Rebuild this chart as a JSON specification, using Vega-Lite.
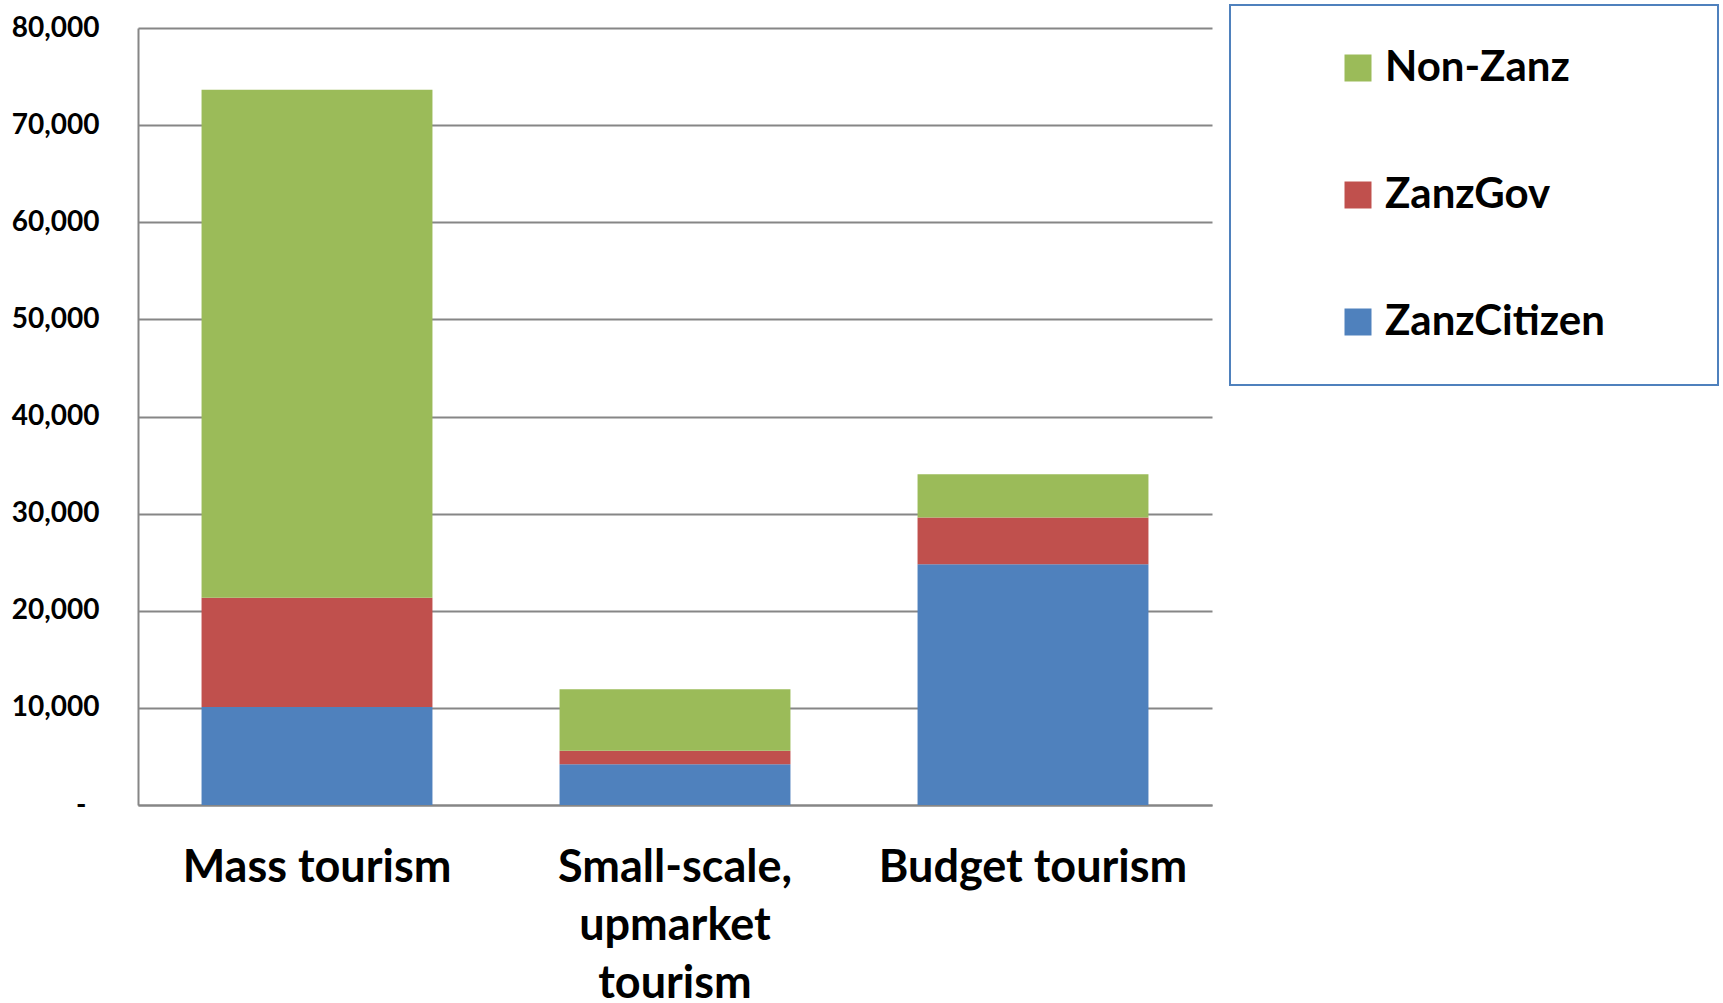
{
  "$schema": "https://vega.github.io/schema/vega-lite/v6.json",
  "autosize": "none",
  "padding": {"left": 138, "top": 28, "right": 511, "bottom": 198},
  "width": 1074,
  "height": 777,
  "background": "white",
  "view": {"stroke": null},
  "config": {"font": "Lato"},
  "data": {
    "values": [
      {"category": "Mass tourism", "series": "ZanzCitizen", "rank": 1, "value": 10100},
      {"category": "Mass tourism", "series": "ZanzGov", "rank": 2, "value": 11250},
      {"category": "Mass tourism", "series": "Non-Zanz", "rank": 3, "value": 52300},
      {"category": "Small-scale, upmarket tourism", "series": "ZanzCitizen", "rank": 1, "value": 4190},
      {"category": "Small-scale, upmarket tourism", "series": "ZanzGov", "rank": 2, "value": 1400},
      {"category": "Small-scale, upmarket tourism", "series": "Non-Zanz", "rank": 3, "value": 6330},
      {"category": "Budget tourism", "series": "ZanzCitizen", "rank": 1, "value": 24790},
      {"category": "Budget tourism", "series": "ZanzGov", "rank": 2, "value": 4800},
      {"category": "Budget tourism", "series": "Non-Zanz", "rank": 3, "value": 4470}
    ]
  },
  "mark": {"type": "bar"},
  "encoding": {
    "x": {
      "field": "category",
      "type": "nominal",
      "sort": ["Mass tourism", "Small-scale, upmarket tourism", "Budget tourism"],
      "scale": {"paddingInner": 0.355, "paddingOuter": 0.1775},
      "axis": {
        "title": null,
        "labelAngle": 0,
        "labelFont": "Lato",
        "labelFontWeight": "bold",
        "labelFontSize": 45,
        "labelColor": "black",
        "labelPadding": 40,
        "labelLineHeight": 58,
        "labelBaseline": "top",
        "labelLimit": 0,
        "labelExpr": "datum.label == 'Small-scale, upmarket tourism' ? ['Small-scale,', 'upmarket', 'tourism'] : datum.label",
        "ticks": false,
        "domainColor": "#868686",
        "domainWidth": 2,
        "grid": false
      }
    },
    "y": {
      "field": "value",
      "type": "quantitative",
      "stack": "zero",
      "scale": {"domain": [0, 80000], "nice": false},
      "axis": {
        "title": null,
        "values": [0, 10000, 20000, 30000, 40000, 50000, 60000, 70000, 80000],
        "labelExpr": "datum.value == 0 ? '-' : format(datum.value, ',')",
        "labelFont": "Lato",
        "labelFontWeight": "bold",
        "labelFontSize": 28,
        "labelColor": "black",
        "labelPadding": {"condition": {"test": "datum.value == 0", "value": 52}, "value": 39},
        "ticks": false,
        "domainColor": "#868686",
        "domainWidth": 2,
        "grid": true,
        "gridColor": "#868686",
        "gridWidth": 2
      }
    },
    "color": {
      "field": "series",
      "type": "nominal",
      "scale": {
        "domain": ["Non-Zanz", "ZanzGov", "ZanzCitizen"],
        "range": ["#9BBB59", "#C0504D", "#4F81BD"]
      },
      "legend": {
        "title": "x",
        "titleOrient": "right",
        "titleFontSize": 10,
        "titlePadding": 65,
        "titleOpacity": 0,
        "orient": "none",
        "legendX": 1092,
        "legendY": -23,
        "direction": "vertical",
        "padding": 42,
        "symbolOffset": 65,
        "symbolType": "square",
        "symbolSize": 729,
        "symbolStrokeWidth": 0,
        "labelFont": "Lato",
        "labelFontWeight": "bold",
        "labelFontSize": 42,
        "labelColor": "black",
        "labelOffset": 6,
        "labelLimit": 0,
        "rowPadding": 85,
        "strokeColor": "#4F81BD",
        "fillColor": "white",
        "encode": {"legend": {"update": {"strokeWidth": {"value": 2}}}}
      }
    },
    "order": {"field": "rank", "type": "quantitative", "sort": "ascending"}
  }
}
